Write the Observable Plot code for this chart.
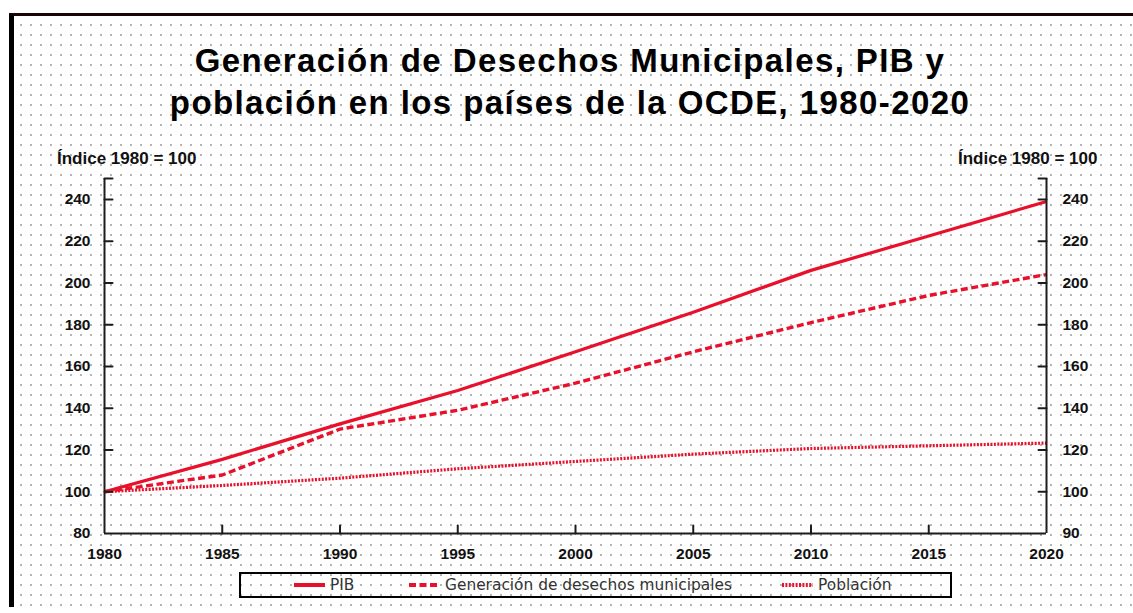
<!DOCTYPE html>
<html>
<head>
<meta charset="utf-8">
<script src="https://cdn.jsdelivr.net/npm/d3@7"></script>
<script src="https://cdn.jsdelivr.net/npm/@observablehq/plot@0.6"></script>
<style>
  html, body { margin: 0; padding: 0; background: #fff; }
  #wrap { position: relative; width: 1133px; height: 613px; overflow: hidden; background: #fff; font-family: "Liberation Sans", Arial, sans-serif; }
  #frame { position: absolute; left: 9px; top: 13px; right: -10px; bottom: 6px;
    border-top: 3px solid #1a0505; border-left: 5px solid #000;
    background-image: radial-gradient(circle, #b5b5b5 0.75px, transparent 1.1px);
    background-size: 10px 10px; background-position: 2px 4px; }
  #title { position: absolute; left: 0; width: 1140px; top: 40px; text-align: center;
    font: bold 33px/42px "Liberation Sans", Arial, sans-serif; letter-spacing: 1.4px; color: #000; }
  .unit { position: absolute; top: 150px; font: bold 17px/17px "Liberation Sans", Arial, sans-serif; color: #111; }
  #chart { position: absolute; left: 0; top: 160px; }
  #legend { position: absolute; left: 239px; top: 572px; width: 709px; height: 22px; border: 2px solid #000; background: transparent; }
  .li { position: absolute; top: 0; height: 22px; display: flex; align-items: center; font: 15.4px "DejaVu Sans", sans-serif; color: #333; }
  .li svg { margin-right: 4px; }
</style>
</head>
<body>
<div id="wrap">
  <div id="frame"></div>
  <div id="title">Generación de Desechos Municipales, PIB y<br>población en los países de la OCDE, 1980-2020</div>
  <div class="unit" style="left:57px">Índice 1980 = 100</div>
  <div class="unit" style="left:958px">Índice 1980 = 100</div>
  <div id="chart"></div>
  <div id="legend"></div>
</div>
<script>
const years = [1980, 1985, 1990, 1995, 2000, 2005, 2010, 2015, 2020];
const pib = [100, 115.5, 132.5, 148.5, 167, 186, 206, 222.5, 239];
const desechos = [100, 108, 130, 139, 152, 167, 181, 194, 204];
const poblacion = [100, 103, 106.5, 111, 114.5, 118, 120.7, 122, 123.3];

const seriesNames = ["PIB", "Generación de desechos municipales", "Población"];
const yTicks = [80, 100, 120, 140, 160, 180, 200, 220, 240];
const yTickMarks = [100, 120, 140, 160, 180, 200, 220, 240, 250];
const leftTickLabels = ["80", "100", "120", "140", "160", "180", "200", "220", "240"];
const rightTickLabels = ["90", "100", "120", "140", "160", "180", "200", "220", "240"];
const xTicks = [1980, 1985, 1990, 1995, 2000, 2005, 2010, 2015, 2020];
const xTickMarks = [1985, 1990, 1995, 2000, 2005, 2010, 2015];

const red = "#e8102a";
const axisColor = "#1c1c1c";
const styles = [
  {strokeWidth: 3.2, strokeDasharray: null},
  {strokeWidth: 3.4, strokeDasharray: "7,3.5"},
  {strokeWidth: 3.2, strokeDasharray: "2,1.4"}
];
const seriesValues = [pib, desechos, poblacion];

const tickShape = {
  draw(context, l) { context.moveTo(0, 0); context.lineTo(0, -l); }
};

const lineMarks = seriesValues.map((vals, i) =>
  Plot.line(years.map((yr, j) => ({year: yr, value: vals[j]})), {
    x: "year", y: "value", stroke: red,
    strokeWidth: styles[i].strokeWidth,
    strokeDasharray: styles[i].strokeDasharray,
    strokeLinejoin: "round",
    strokeLinecap: "butt"
  })
);

const chart = Plot.plot({
  width: 1133,
  height: 410,
  marginLeft: 104,
  marginRight: 87,
  marginTop: 18,
  marginBottom: 37,
  style: {background: "transparent", overflow: "visible", fontFamily: "'Liberation Sans', Arial, sans-serif"},
  x: {domain: [1980, 2020]},
  y: {domain: [80, 250]},
  marks: [
    ...lineMarks,
    Plot.ruleX([1980, 2020], {stroke: axisColor, strokeWidth: 2}),
    Plot.ruleY([80], {stroke: axisColor, strokeWidth: 2}),
    Plot.vector(yTickMarks, {x: () => 1980, y: d => d, rotate: 90, length: 8, anchor: "start", shape: tickShape, stroke: axisColor, strokeWidth: 2}),
    Plot.vector(yTickMarks, {x: () => 2020, y: d => d, rotate: -90, length: 8, anchor: "start", shape: tickShape, stroke: axisColor, strokeWidth: 2}),
    Plot.vector(xTickMarks, {x: d => d, y: () => 80, rotate: 0, length: 8, anchor: "start", shape: tickShape, stroke: axisColor, strokeWidth: 2}),
    Plot.axisY(yTicks, {anchor: "left", tickSize: 0, tickPadding: 14, label: null,
      tickFormat: d => leftTickLabels[yTicks.indexOf(d)], fontSize: 15.5, fontWeight: "bold", fill: "#111"}),
    Plot.axisY(yTicks, {anchor: "right", tickSize: 0, tickPadding: 16, label: null,
      tickFormat: d => rightTickLabels[yTicks.indexOf(d)], fontSize: 15.5, fontWeight: "bold", fill: "#111"}),
    Plot.axisX(xTicks, {anchor: "bottom", tickSize: 0, tickPadding: 14, label: null,
      tickFormat: d => String(d), fontSize: 15.5, fontWeight: "bold", fill: "#111"})
  ]
});
document.getElementById("chart").appendChild(chart);

// Legend
const legend = document.getElementById("legend");
const legendLeft = [53, 168, 541];
seriesNames.forEach((name, i) => {
  const item = document.createElement("div");
  item.className = "li";
  item.style.left = legendLeft[i] + "px";
  const sw = d3.create("svg").attr("width", 32).attr("height", 10);
  sw.append("line").attr("x1", 0).attr("x2", 31).attr("y1", 5).attr("y2", 5)
    .attr("stroke", red).attr("stroke-width", 4)
    .attr("stroke-dasharray", i === 0 ? null : (i === 1 ? "7,3.5" : "2,1.4"));
  item.appendChild(sw.node());
  const t = document.createElement("span");
  t.textContent = name;
  item.appendChild(t);
  legend.appendChild(item);
});
</script>
</body>
</html>
